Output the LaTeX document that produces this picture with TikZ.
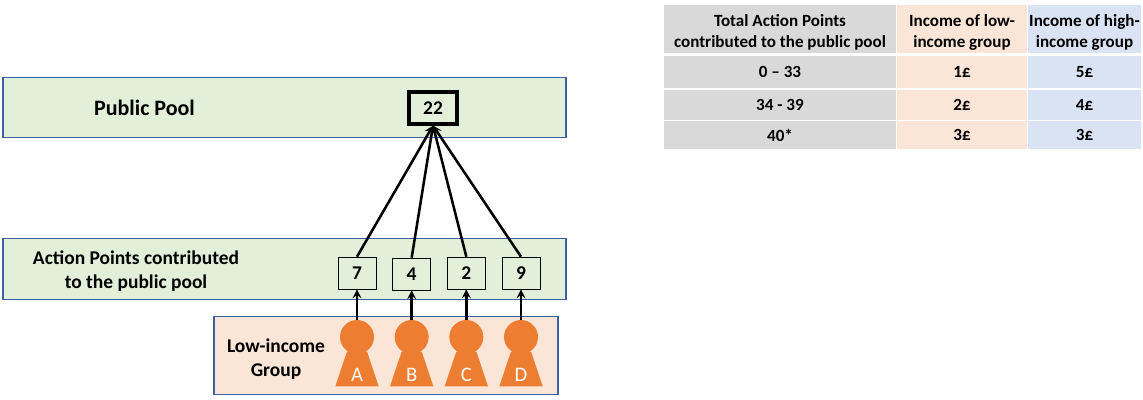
\documentclass[tikz,border=0pt]{standalone}
\usepackage{fontspec}
\setmainfont{Carlito}
\usetikzlibrary{shapes.geometric, arrows}
\usetikzlibrary{positioning}
\definecolor{poolGreen}{RGB}{226,240,217}
\definecolor{groupOrange}{RGB}{251,229,214}
\definecolor{highBlue}{RGB}{218,227,243}
\definecolor{rowGrey}{RGB}{217,217,217}
\definecolor{personOrange}{RGB}{237,125,49}
\definecolor{frameBlue}{RGB}{62,96,165}
\tikzstyle{band} = [rectangle, draw=frameBlue, thick, minimum width=422.25pt, minimum height=45.5pt, fill=poolGreen, inner sep=0pt]
\tikzstyle{groupBand} = [rectangle, draw=frameBlue, thick, minimum width=258pt, minimum height=59pt, fill=groupOrange, inner sep=0pt]
\tikzstyle{bandText} = [font=\fontsize{14.6}{18}\selectfont\bfseries, align=center, inner sep=0pt]
\tikzstyle{points} = [rectangle, draw=black, minimum width=28.5pt, minimum height=24pt, inner sep=0pt, font=\fontsize{14.6}{14}\selectfont\bfseries]
\tikzstyle{total} = [rectangle, draw=black, line width=2.4pt, minimum width=36pt, minimum height=24pt, inner sep=0pt, font=\fontsize{14.6}{14}\selectfont\bfseries]
\tikzstyle{head} = [circle, minimum size=25.5pt, inner sep=0pt, fill=personOrange]
\tikzstyle{body} = [trapezium, trapezium left angle=60, trapezium right angle=60, trapezium stretches=true, minimum width=32.5pt, minimum height=26pt, inner sep=0pt, text width=10pt, text height=10pt, text depth=0pt, align=center, fill=personOrange, text=white, font=\fontsize{15.5}{15.5}\selectfont]
\tikzstyle{arrow} = [line width=1.9pt,->,>=stealth]
\tikzstyle{cell} = [rectangle, inner sep=0pt, align=center, font=\fontsize{12.8}{15.5}\selectfont\bfseries]
\begin{document}
\begin{tikzpicture}[x=0.75pt, y=-0.75pt, node distance=41pt]
\useasboundingbox (0,0) rectangle (1143,400);
% bands
\node (poolBand) [band] at (284.5,107.5) {};
\node (pointsBand) [band] at (284.5,269) {};
\node (lowBand) [groupBand] at (386,355.5) {};
\node (poolText) [bandText, font=\fontsize{16.5}{18}\selectfont\bfseries] at (144.5,108) {Public Pool};
\node (pointsText) [bandText] at (136,271) {Action Points contributed\\to the public pool};
\node (lowText) [bandText] at (276,359) {Low-income\\Group};
% boxes
\node (n22) [total] at (433,108) {22};
\node (n7) [points] at (357,273) {7};
\node (n4) [points, right of = n7, yshift=-0.75pt] {4};
\node (n2) [points, right of = n7, xshift=41pt] {2};
\node (n9) [points, right of = n2] {9};
% people
\node (bodyA) [body] at (357,369) {\raisebox{-4pt}{A}};
\node (bodyB) [body, right of = bodyA] {\raisebox{-4pt}{B}};
\node (bodyC) [body, right of = bodyB] {\raisebox{-4pt}{C}};
\node (bodyD) [body, right of = bodyC] {\raisebox{-4pt}{D}};
\node (headA) [head] at (357,337) {};
\node (headB) [head, right of = headA] {};
\node (headC) [head, right of = headB] {};
\node (headD) [head, right of = headC] {};
% arrows
\draw [arrow] (headA.north) -- (n7.south);
\draw [arrow] (headB.north) -- (n4.south);
\draw [arrow] (headC.north) -- (n2.south);
\draw [arrow] (headD.north) -- (n9.south);
\draw [arrow] (n7.north) -- (n22.south);
\draw [arrow] (n4.north) -- (n22.south);
\draw [arrow] (n2.north) -- (n22.south);
\draw [arrow] (n9.north) -- (n22.south);
% table
\node (h1) [cell, fill=rowGrey, minimum width=174pt, minimum height=36pt] at (780,29) {\rule{0pt}{14pt}Total Action Points\\contributed to the public pool};
\node (h2) [cell, fill=groupOrange, minimum width=97.5pt, minimum height=36pt] at (962,29) {\rule{0pt}{14pt}Income of low-\\income group};
\node (h3) [cell, fill=highBlue, minimum width=85pt, minimum height=36pt] at (1084.5,29) {\rule{0pt}{14pt}Income of high-\\income group};
\node (r1a) [cell, fill=rowGrey, minimum width=174pt, minimum height=24pt] at (780,72) {0 -- 33};
\node (r1b) [cell, fill=groupOrange, minimum width=97.5pt, minimum height=24pt] at (962,72) {1£};
\node (r1c) [cell, fill=highBlue, minimum width=85pt, minimum height=24pt] at (1084.5,72) {5£};
\node (r2a) [cell, fill=rowGrey, minimum width=174pt, minimum height=22.5pt] at (780,105) {34 - 39};
\node (r2b) [cell, fill=groupOrange, minimum width=97.5pt, minimum height=22.5pt] at (962,105) {2£};
\node (r2c) [cell, fill=highBlue, minimum width=85pt, minimum height=22.5pt] at (1084.5,105) {4£};
\node (r3a) [cell, fill=rowGrey, minimum width=174pt, minimum height=21.5pt] at (780,135) {\raisebox{-1.5pt}{40*}};
\node (r3b) [cell, fill=groupOrange, minimum width=97.5pt, minimum height=21.5pt] at (962,135) {\raisebox{-1.5pt}{3£}};
\node (r3c) [cell, fill=highBlue, minimum width=85pt, minimum height=21.5pt] at (1084.5,135) {\raisebox{-1.5pt}{3£}};
\end{tikzpicture}
\end{document}
